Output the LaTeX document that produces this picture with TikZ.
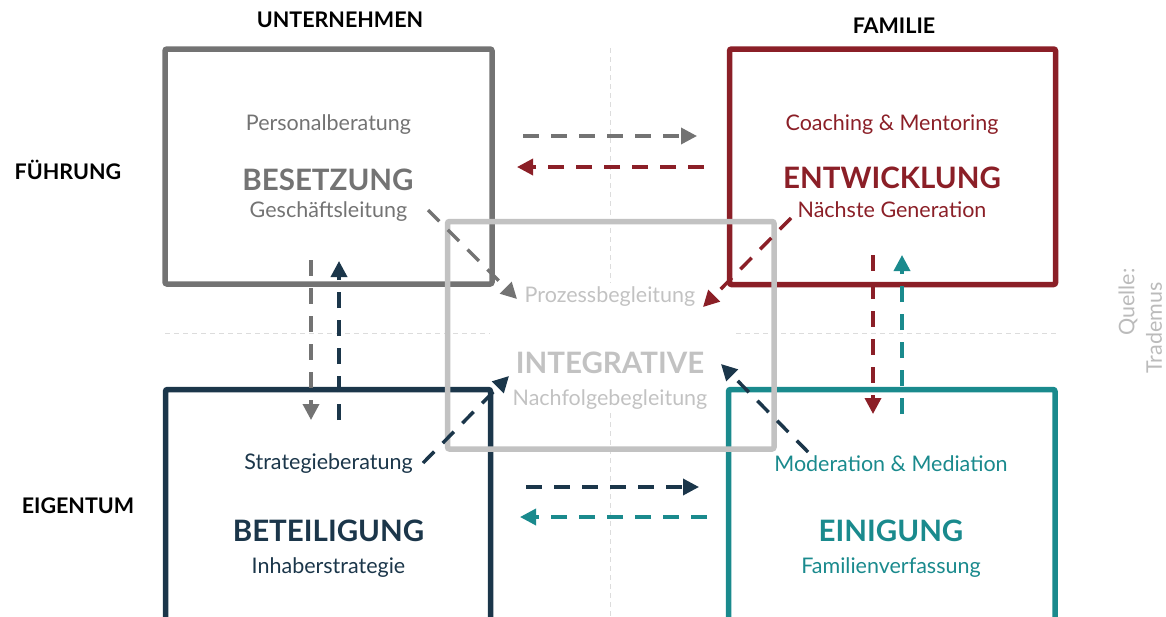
\documentclass[tikz,border=0pt]{standalone}
\usepackage{fontspec}
\setmainfont{Lato}
\usetikzlibrary{positioning,arrows.meta}
\definecolor{unternehmen}{HTML}{737373}
\definecolor{familie}{HTML}{8B1F27}
\definecolor{eigentum}{HTML}{1B364A}
\definecolor{einigung}{HTML}{1A8A8D}
\definecolor{integrativ}{HTML}{C2C2C2}
\definecolor{gitterfarbe}{HTML}{DCDCDC}
\definecolor{quellfarbe}{HTML}{BBBBBB}

\begin{document}
\begin{tikzpicture}[
  x=1pt, y=-1pt,
  feld/.style={line width=5.5pt, rounded corners=2pt},
  kopf/.style={font=\bfseries\fontsize{21.5}{24}\selectfont, text=black},
  leistung/.style={font=\fontsize{21.5}{24}\selectfont},
  titel/.style={font=\bfseries\fontsize{29.5}{32}\selectfont},
  pfeil/.style={line width=3.5pt, dash pattern=on 16pt off 12pt,
    -{Triangle[length=16pt,width=16pt]}},
  gitter/.style={draw=gitterfarbe, line width=1pt, dash pattern=on 5pt off 4pt}
    ]
\useasboundingbox (0,0) rectangle (1166,616);

% Raster
\draw[gitter] (610,48) -- (610,283) (610,413) -- (610,616);
\draw[gitter] (165,333) -- (490,333) (736,333) -- (1058,333);

% Felder
\draw[feld, unternehmen] (165,49) rectangle (492,284);
\draw[feld, familie] (729.5,49) rectangle (1055.5,284.5);
\draw[feld, eigentum] (165.5,389.5) rectangle (490.5,640);
\draw[feld, einigung] (728.5,389.5) rectangle (1055,640);
\draw[feld, integrativ] (447.5,221.5) rectangle (774,449);

% Achsen
\node[kopf] (unt) at (340,20) {UNTERNEHMEN};
\node[kopf] (fam) at (894,26) {FAMILIE};
\node[kopf] (fuehr) at (68,170) {FÜHRUNG};
\node[kopf] (eig) at (78,506) {EIGENTUM};

% Texte
\node[leistung, text=unternehmen] (personal) at (328.5,124.5) {Personalberatung};
\node[titel, text=unternehmen] (besetzung) at (328,180) {BESETZUNG};
\node[leistung, text=unternehmen] (gesch) at (328.5,211.5) {Geschäftsleitung};

\node[leistung, text=familie] (coaching) at (892,125) {Coaching \& Mentoring};
\node[titel, text=familie] (entwicklung) at (892,178) {ENTWICKLUNG};
\node[leistung, text=familie] (naechste) at (892,210) {Nächste Generation};

\node[leistung, text=eigentum] (strategie) at (328.5,463.5) {Strategieberatung};
\node[titel, text=eigentum] (beteiligung) at (328.5,530.5) {BETEILIGUNG};
\node[leistung, text=eigentum] (inhaber) at (328.5,567.5) {Inhaberstrategie};

\node[leistung, text=einigung] (moderation) at (891,463.5) {Moderation \& Mediation};
\node[titel, text=einigung] (einigung) at (891,530.5) {EINIGUNG};
\node[leistung, text=einigung] (verfassung) at (891,567.5) {Familienverfassung};

\node[leistung, text=integrativ] (prozess) at (610,296.5) {Prozessbegleitung};
\node[titel, text=integrativ] (integrative) at (610,362.5) {INTEGRATIVE};
\node[leistung, text=integrativ] (nachfolge) at (610,400) {Nachfolgebegleitung};

\node[leistung, text=quellfarbe, rotate=90] (quelle) at (1128,302) {Quelle:};
\node[leistung, text=quellfarbe, rotate=90] (trademus) at (1154,328) {Trademus};

% Pfeilenden
\coordinate (uf1) at (523,136);   \coordinate (uf2) at (697,136);
\coordinate (fu1) at (704,167);   \coordinate (fu2) at (517,167);
\coordinate (ee1) at (526,487);   \coordinate (ee2) at (699,487);
\coordinate (ie1) at (707,517);   \coordinate (ie2) at (520,517);
\coordinate (ub1) at (311,260);   \coordinate (ub2) at (311,420);
\coordinate (bu1) at (339,420);   \coordinate (bu2) at (339,261);
\coordinate (fe1) at (873,255);   \coordinate (fe2) at (873,414);
\coordinate (ef1) at (902,414);   \coordinate (ef2) at (902,255);
\coordinate (ui1) at (428,210);   \coordinate (ui2) at (517,299);
\coordinate (fi1) at (791,218);   \coordinate (fi2) at (703,307);
\coordinate (bi1) at (423,463);   \coordinate (bi2) at (509,376);
\coordinate (mi1) at (808,452);   \coordinate (mi2) at (721,364);

\path (uf1) edge[pfeil, unternehmen] (uf2)
(fu1) edge[pfeil, familie] (fu2)
(ee1) edge[pfeil, eigentum] (ee2)
(ie1) edge[pfeil, einigung] (ie2)
(ub1) edge[pfeil, unternehmen] (ub2)
(bu1) edge[pfeil, eigentum] (bu2)
(fe1) edge[pfeil, familie] (fe2)
(ef1) edge[pfeil, einigung] (ef2)
(ui1) edge[pfeil, unternehmen] (ui2)
(fi1) edge[pfeil, familie] (fi2)
(bi1) edge[pfeil, eigentum] (bi2)
(mi1) edge[pfeil, eigentum] (mi2);
\end{tikzpicture}
\end{document}
